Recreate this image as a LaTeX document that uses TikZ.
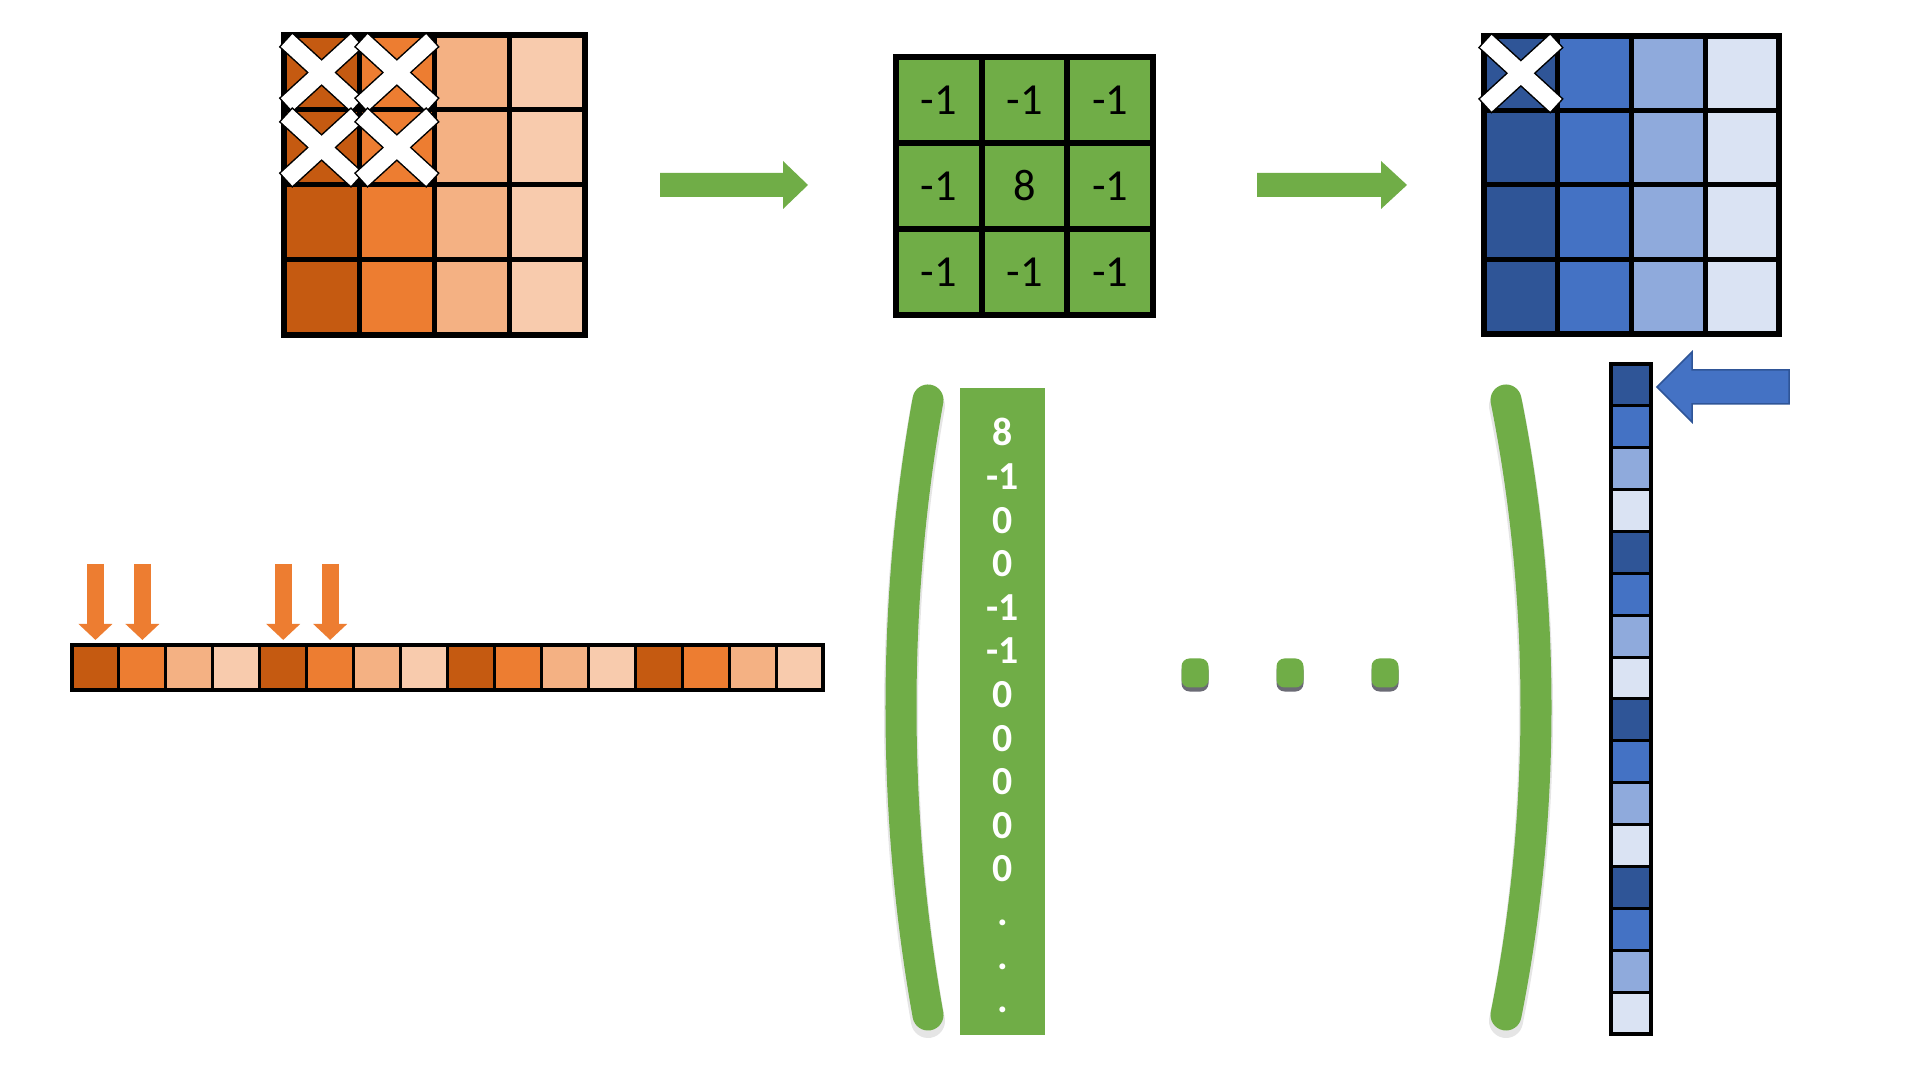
\documentclass[tikz,border=0pt]{standalone}
\usepackage{fontspec}
\setmainfont{Carlito}
\usetikzlibrary{arrows.meta,positioning}

\definecolor{odark}{HTML}{C55A11}
\definecolor{omid}{HTML}{ED7D31}
\definecolor{olight}{HTML}{F4B183}
\definecolor{opale}{HTML}{F8CBAD}
\definecolor{bdark}{HTML}{2F5597}
\definecolor{bmid}{HTML}{4472C4}
\definecolor{blight}{HTML}{8FAADC}
\definecolor{bpale}{HTML}{DAE3F3}
\definecolor{grn}{HTML}{70AD47}
\definecolor{dotshade}{HTML}{6B6B75}

\tikzset{
  bigcell/.style={draw=black, line width=0.05cm, inner sep=0pt, outer sep=0pt,
    minimum width=0.7525cm, minimum height=0.75cm},
  bluecell/.style={bigcell, minimum width=0.7375cm, minimum height=0.745cm},
  gcell/.style={draw=black, line width=0.06cm, inner sep=0pt, outer sep=0pt, fill=grn,
    minimum width=0.8567cm, minimum height=0.86cm,
    font=\fontsize{12.6}{14}\selectfont},
  stripcell/.style={draw=black, line width=0.03cm, inner sep=0pt, outer sep=0pt,
    minimum width=0.4694cm, minimum height=0.45cm},
  colcell/.style={draw=black, line width=0.03cm, inner sep=0pt, outer sep=0pt,
    minimum width=0.40cm, minimum height=0.41875cm},
  vnum/.style={anchor=base, inner sep=0pt, text=white,
    font=\bfseries\fontsize{11.3}{13}\selectfont},
  downarrow/.style={omid, line width=0.17cm,
    -{Triangle[width=0.33cm,length=0.16cm]}, shorten >=0.05cm},
  paren/.style={grn, line width=0.31cm, line cap=round},
  dotbox/.style={fill=grn, rounded corners=0.08cm, inner sep=0pt,
    minimum width=0.27cm, minimum height=0.29cm,
    preaction={fill=dotshade, transform canvas={yshift=-0.04cm}}}
}

\begin{document}
\begin{tikzpicture}[x=0.01cm, y=-0.01cm]
\path[fill=white, use as bounding box] (0,0) rectangle (1920,1080);

% input image
\foreach \c/\col in {1/odark,2/omid,3/olight,4/opale}
  \foreach \r in {1,...,4}
    \node[bigcell, fill=\col] (o\r\c) at ({284+75.25*(\c-0.5)}, {35+75*(\r-0.5)}) {};
\draw[line width=0.06cm] (o11.north west) rectangle (o44.south east);

% kernel
\foreach \r in {1,2,3}
  \foreach \c in {1,2,3}
    \node[gcell] (g\r\c) at ({896+85.67*(\c-0.5)}, {57+86*(\r-0.5)}) {\ifnum\r\c=22 8\else -1\fi};

% output image
\foreach \c/\col in {1/bdark,2/bmid,3/blight,4/bpale}
  \foreach \r in {1,...,4}
    \node[bluecell, fill=\col] (b\r\c) at ({1484+73.75*(\c-0.5)}, {36+74.5*(\r-0.5)}) {};
\draw[line width=0.06cm] (b11.north west) rectangle (b44.south east);

% crosses
\foreach \n in {o11,o12,o21,o22,b11} {
  \draw[line width=0.2cm, black] ([shift={(-36.1,-33)}]\n.center) -- ([shift={(36.1,33)}]\n.center)
    ([shift={(-36.1,33)}]\n.center) -- ([shift={(36.1,-33)}]\n.center);
  \draw[line width=0.17cm, white] ([shift={(-35,-32)}]\n.center) -- ([shift={(35,32)}]\n.center)
    ([shift={(-35,32)}]\n.center) -- ([shift={(35,-32)}]\n.center);
}

% block arrows
\fill[grn] (660,173) -- (783,173) -- (783,161) -- (808,185) -- (783,209) -- (783,197) -- (660,197) -- cycle;
\fill[grn] (1257,173) -- (1381,173) -- (1381,161) -- (1407,185) -- (1381,209) -- (1381,197) -- (1257,197) -- cycle;

% flattened input
\foreach \g in {0,...,3}
  \foreach \c/\col in {1/odark,2/omid,3/olight,4/opale}
    \node[stripcell, fill=\col] (s\g\c) at ({72+46.94*(4*\g+\c-0.5)}, 667.5) {};
\draw[line width=0.045cm] (s01.north west) rectangle (s34.south east);

\foreach \n in {s01,s02,s11,s12} {
  \coordinate (a\n) at ([yshift=0.81cm]\n.north);
  \draw[downarrow] (a\n) -- (\n.north);
}

% matrix
\draw[paren, black, opacity=0.1, line width=0.34cm, transform canvas={yshift=-0.06cm}]
  (928,400) .. controls (892,600) and (892,815) .. (928,1015);
\draw[paren] (928,400) .. controls (892,600) and (892,815) .. (928,1015);
\draw[paren, black, opacity=0.1, line width=0.34cm, transform canvas={yshift=-0.06cm}]
  (1506,400) .. controls (1546,600) and (1546,815) .. (1506,1015);
\draw[paren] (1506,400) .. controls (1546,600) and (1546,815) .. (1506,1015);

\node[fill=grn, inner sep=0pt, minimum width=0.85cm, minimum height=6.47cm] (vec) at (1002.5,711.5) {};
\foreach \v [count=\i from 0] in {8,-1,0,0,-1,-1,0,0,0,0,0,.,.,.}
  \node[vnum] (v\i) at (1002.5, {446+43.6*\i}) {\v};

\foreach \n/\x in {1/1195,2/1290,3/1385}
  \node[dotbox] (d\n) at (\x,673) {};

% flattened output
\foreach \g in {0,...,3}
  \foreach \c/\col in {1/bdark,2/bmid,3/blight,4/bpale}
    \node[colcell, fill=\col] (p\g\c) at (1631, {364+41.875*(4*\g+\c-0.5)}) {};
\draw[line width=0.035cm] (p01.north west) rectangle (p34.south east);

\filldraw[fill=bmid, draw=bdark, line width=0.015cm] (1657,387) -- (1692,352) -- (1692,370)
  -- (1789,370) -- (1789,404) -- (1692,404) -- (1692,422) -- cycle;
\end{tikzpicture}
\end{document}
